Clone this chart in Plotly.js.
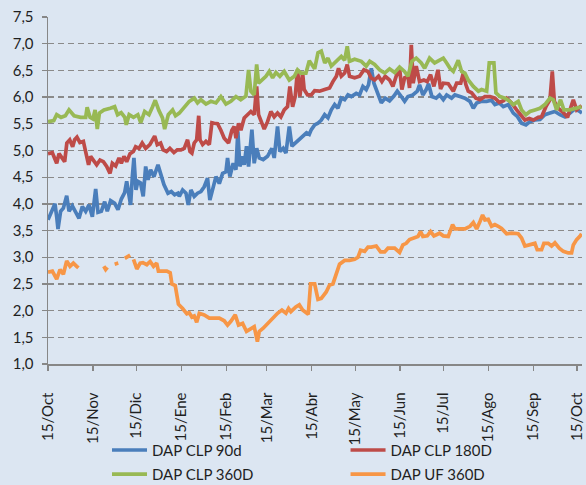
<!DOCTYPE html>
<html>
<head>
<meta charset="utf-8">
<script src="https://cdn.plot.ly/plotly-3.0.1.min.js"></script>
<style>
  html, body { margin: 0; padding: 0; background: #DCE6F2; }
  #chart { width: 586px; height: 485px; }
</style>
</head>
<body>
<div id="chart"></div>
<script>
// x = days since 15/Oct (start of period)
const tickDays = [0, 31, 61, 92, 123, 151, 182, 212, 243, 273, 304, 335, 365];
const tickLabels = ['15/Oct', '15/Nov', '15/Dic', '15/Ene', '15/Feb', '15/Mar', '15/Abr', '15/May', '15/Jun', '15/Jul', '15/Ago', '15/Sep', '15/Oct'];

const clp90Days = [0,3,4.8,6,6.9,8.7,10.6,12.9,14.5,16.8,19.1,21.4,23.7,26,28.3,30.6,32.9,34.5,36.8,39.1,40.9,43.2,46,48.3,50.6,52.9,54.3,55.9,57,58.2,59.3,60.7,62,63.9,65.7,67.4,69,70.8,73.1,75.9,77.7,80,82.8,85.1,87.4,89.7,90.6,92.9,95.2,96.8,98.6,100.9,103.2,105.5,107.8,110.1,111.7,113.6,115.9,118.2,120.5,122.8,123.9,125.5,127.8,129.7,131,132.4,134.3,135.4,137,138.4,140.7,142.3,144,145.8,148.5,151.5,154.5,156.1,158.4,160,162.3,164.2,166.5,168.3,170.6,172.9,175.7,178.4,180.3,181.7,184,186.3,188.6,190.9,193.2,195.5,197.8,200.1,202.4,204.7,207,209.3,212.7,215,217.3,219.6,221.2,223.1,224.9,227.7,230,232.7,235.7,238.7,241,243.8,246.1,248.4,251.8,254.8,256.4,258.7,261,262.6,264.9,267.9,270.2,272.8,275.1,278.5,280.8,284.3,287.7,291.2,293.5,295.8,299.2,302.7,306.1,308.4,311.4,314.2,317.6,321.1,323.8,326.8,329.8,332.6,336,339.5,342.9,346.4,349.8,353.3,356.7,360.2,363.6,367,368.5];
const clp90Vals = [3.70,3.89,4.00,3.76,3.53,3.86,3.92,4.15,3.86,3.96,3.86,3.73,3.95,3.86,3.98,3.76,4.28,3.84,3.86,4.04,3.86,4.06,4.01,3.89,4.09,4.21,4.42,4.14,3.98,4.51,4.86,4.26,4.42,4.39,4.14,4.70,4.45,4.64,4.51,4.73,4.54,4.36,4.20,4.23,4.17,4.20,4.14,4.26,4.20,3.98,4.26,4.14,4.20,4.23,4.32,4.48,4.07,4.26,4.51,4.38,4.57,4.60,4.86,4.51,4.76,4.64,5.36,4.70,4.89,4.73,5.08,4.70,5.39,4.76,5.04,4.86,4.83,4.89,5.04,4.86,5.45,4.98,5.04,4.95,5.45,5.08,5.14,5.20,5.26,5.33,5.30,5.39,5.48,5.51,5.57,5.67,5.61,5.76,5.86,5.79,5.98,5.95,6.04,6.01,6.07,6.04,6.20,6.14,6.23,6.54,6.26,6.07,5.89,5.98,5.93,6.02,6.11,6.01,5.92,6.01,6.04,6.11,6.23,6.04,6.14,6.25,6.01,5.98,6.04,5.95,6.04,5.98,6.04,6.01,5.98,5.92,5.79,5.89,5.92,5.92,5.94,5.86,5.89,5.82,5.86,5.70,5.64,5.51,5.48,5.54,5.57,5.58,5.67,5.70,5.73,5.67,5.63,5.70,5.78,5.73,5.70];

const clp180Days = [0,3,4,6,7.6,10,11.5,13,15,17,18.4,20,22,24.4,26,28,29.4,31.3,33.6,35.9,38.2,40.5,42.8,44.4,46.7,49,50.6,52.4,54.3,56.6,58.9,60.5,62.8,65,67.4,70.3,72,73.6,75.4,77.7,79.5,81.8,84.1,86.9,89.2,91.7,94,96.3,98,99.3,100.9,102.6,104,104.9,106.7,109,111.3,113.1,114.7,117,119.3,121.6,124.6,126.9,128.5,129.7,131.5,133.1,135.4,137.7,140,142.3,144,145.3,147.6,149.2,151.5,153.8,156.1,158.4,160.7,163,165.3,166.9,168.8,170.6,172.2,173.8,175.7,176.8,179.1,181.7,184,187.4,190.9,194.3,196.6,199,200.5,202.4,204.7,206.5,208.1,211.6,215,218,220.8,223,225.4,228.1,230.4,232.7,235.7,238,240.3,242.6,244.2,246.1,248.4,249.5,250.7,252,254.1,256.4,259.4,261.7,264,266.3,269.1,270.9,272.8,276.2,279.7,282,284.8,286.6,288.4,290,292.3,295.3,298.1,301.5,305,308.4,311.4,314.2,316.5,319.9,323.4,326.8,329.1,332.1,334.9,338.3,340.6,343.6,346.4,348,349.4,352.1,355.6,358.5,360.6,362.5,364.8,368.2];
const clp180Vals = [4.94,4.96,4.89,4.76,4.94,4.86,4.79,5.14,5.20,5.07,5.20,5.25,5.15,5.17,4.95,4.73,4.89,4.82,4.73,4.82,4.79,4.70,4.57,4.76,4.71,4.86,4.76,4.89,4.79,4.94,4.98,5.07,5.04,5.14,5.04,5.11,5.20,5.27,5.11,5.14,5.01,4.98,5.04,4.96,5.01,5.01,5.04,5.20,4.98,4.95,5.14,5.20,5.65,5.20,5.11,5.17,5.11,5.52,5.51,5.50,5.38,5.23,5.14,5.38,5.45,5.23,5.51,5.38,5.61,5.67,5.73,5.67,6.20,5.67,5.48,5.40,5.54,5.73,5.63,5.70,5.63,5.76,5.82,6.20,5.82,6.01,6.52,6.01,6.45,6.14,6.04,6.04,6.12,6.11,6.14,6.17,6.29,6.39,6.54,6.39,6.45,6.61,6.39,6.36,6.39,6.51,6.48,6.36,6.32,6.39,6.29,6.39,6.32,6.20,6.39,6.54,6.14,6.36,6.39,6.17,6.98,6.26,6.58,6.29,6.32,6.29,6.42,6.20,6.51,6.15,6.26,6.25,6.11,6.26,6.26,6.45,6.23,6.11,6.08,5.98,5.95,6.01,6.01,5.98,5.90,5.93,5.98,5.89,5.76,5.64,5.57,5.60,5.57,5.62,5.63,5.82,5.95,6.48,5.92,5.79,5.71,5.62,5.79,5.95,5.76,5.84];

const clp360Days = [0,4,6,9,12,14.5,18,22.5,26,27,29,31,32.5,34,35.5,38.6,43,46,48,50.5,53,54,56,59,62,64,66.7,69.7,72,74,76.5,79,80.5,83,86,88,90.6,94,97.5,101,103.2,105.5,109,112.4,115.9,119.3,122.8,126.2,129.7,133,136.6,138.4,140,142.3,144,145.3,148,150.4,152.7,155,157.3,160,163,166.5,170,172.2,174.5,178,180.3,184,186.3,188.6,191,193.2,195.5,199,202.4,204.7,206.5,208,211.6,216.2,219.6,222,225.4,228.8,232.3,235.7,239.2,242.6,246,248.4,251.1,254.1,257.6,259.9,263.3,266.8,270.2,272.8,275.1,277.4,279.7,283.1,285.4,287.7,290,293.5,297,299.2,302.7,304.5,307.7,309.1,311.9,315.3,318.8,321.1,324.5,326.8,329.8,332.6,336,339.5,342.9,346.4,348.7,351,353.7,356,360.2,364.8,368.2];
const clp360Vals = [5.54,5.56,5.67,5.62,5.65,5.76,5.65,5.62,5.62,5.81,5.62,5.59,5.76,5.40,5.70,5.76,5.79,5.82,5.67,5.71,5.62,5.48,5.67,5.62,5.67,5.52,5.73,5.67,5.81,5.94,5.75,5.61,5.40,5.67,5.76,5.65,5.70,5.82,5.92,5.98,5.89,5.95,5.87,5.92,5.89,6.01,5.87,5.92,6.01,5.95,6.02,6.51,6.11,6.04,6.61,6.26,6.32,6.39,6.48,6.36,6.46,6.39,6.48,6.32,6.39,6.51,6.45,6.45,6.68,6.53,6.83,6.86,6.64,6.73,6.58,6.67,6.76,6.69,6.95,6.67,6.71,6.67,6.58,6.67,6.61,6.51,6.45,6.53,6.46,6.56,6.48,6.39,6.67,6.73,6.64,6.54,6.73,6.64,6.69,6.73,6.64,6.54,6.48,6.69,6.48,6.45,6.32,6.20,6.11,6.14,6.11,6.64,6.64,6.08,6.01,5.98,5.92,5.86,5.92,5.76,5.67,5.73,5.76,5.79,5.86,5.98,5.95,5.76,5.95,5.76,5.76,5.79,5.82];

const uf360Days = [0,3,6,8.3,10.6,12.9,15.2,17.5,19.8,21,21.5,38.5,39.8,41,41.5,46,48.5,49,53,56.7,57.5,59,61.3,63.6,65.5,68.2,70.5,72.8,75,76.2,82,84.3,85.5,87.8,90,92.9,95.8,97.5,99.3,100.9,102.6,104.4,107.8,111.3,114.7,118.2,121.6,123.9,126.2,129.2,131.5,134.3,137,140,142.3,144.5,145.8,148.5,151.5,155,158.4,161.4,164.2,166,167.6,171,173.4,175.7,178.4,179.6,181.2,184,186.3,188.6,192,194.3,196.6,199,201.2,204.7,208.1,211.6,213.9,215.7,218.5,220.8,223.1,226.5,229.5,232.3,234.6,239.2,242.6,244.9,247.2,249.5,253,255.3,257.1,258.7,261.7,264,266.3,270.2,272.8,276.2,279.2,280.8,287.7,291.2,293.5,295.8,298.1,299.9,301.5,303.8,306.1,308.4,310.7,313,316.5,319.9,324.5,326.8,329.1,332.6,336,337.6,340.6,342.2,345.2,347.5,349.8,352.8,355.6,359,361.3,362.5,364.8,367,368.2];
const uf360Vals = [2.72,2.74,2.59,2.77,2.68,2.93,2.83,2.89,2.83,2.80,null,2.83,2.77,2.81,null,2.87,2.89,null,2.98,3.04,null,2.96,2.78,2.89,2.90,2.86,2.92,2.83,2.89,2.74,2.74,2.71,2.50,2.47,2.12,2.04,1.94,1.96,1.88,1.90,1.78,1.95,1.92,1.86,1.86,1.86,1.81,1.73,1.80,1.92,1.73,1.76,1.61,1.67,1.70,1.42,1.61,1.67,1.76,1.87,1.95,2.01,1.95,2.04,1.98,2.07,2.11,2.01,1.95,1.93,2.50,2.50,2.21,2.23,2.35,2.48,2.50,2.68,2.87,2.94,2.94,2.96,3.00,3.13,3.11,3.19,3.19,3.21,3.10,3.10,3.17,3.17,3.09,3.23,3.26,3.33,3.36,3.39,3.48,3.39,3.40,3.48,3.40,3.45,3.40,3.39,3.61,3.53,3.53,3.58,3.65,3.53,3.67,3.79,3.70,3.71,3.58,3.61,3.58,3.54,3.44,3.45,3.44,3.36,3.21,3.23,3.26,3.14,3.14,3.26,3.26,3.21,3.27,3.17,3.11,3.08,3.08,3.23,3.33,3.39,3.44];

const seriesNames = ['DAP CLP 90d', 'DAP CLP 180D', 'DAP CLP 360D', 'DAP UF 360D'];
const seriesColors = ['#4A7EBB', '#BE4B48', '#98B954', '#F79646'];
const seriesX = [clp90Days, clp180Days, clp360Days, uf360Days];
const seriesY = [clp90Vals, clp180Vals, clp360Vals, uf360Vals];

const FONT = 'Lato, "Open Sans", sans-serif';
const legendIds = ['legend', 'legend2', 'legend3', 'legend4'];
const traces = seriesNames.map((n, i) => ({
  type: 'scatter', mode: 'lines', name: n,
  x: seriesX[i], y: seriesY[i],
  connectgaps: false,
  legend: legendIds[i],
  line: { color: seriesColors[i], width: 3.7 },
  hoverinfo: 'skip'
}));

// legend placement (paper coords): 2 columns x 2 rows below the axis
const legCol = [0.1105, 0.5572];
const legRow = [-0.2486, -0.318];
function legendBox(col, row) {
  return {
    x: legCol[col], xanchor: 'left', y: legRow[row], yanchor: 'middle',
    xref: 'paper', yref: 'paper',
    bgcolor: 'rgba(0,0,0,0)', borderwidth: 0, itemwidth: 35,
    font: { family: FONT, size: 15, color: '#1f1f1f' }
  };
}

const layout = {
  width: 586, height: 485,
  paper_bgcolor: '#DCE6F2', plot_bgcolor: '#DCE6F2',
  margin: { l: 48, r: 4, t: 17, b: 121, autoexpand: false },
  font: { family: FONT, size: 15, color: '#1f1f1f' },
  separators: ',.',
  showlegend: true,
  xaxis: {
    type: 'linear', range: [0, 368.5],
    tickmode: 'array', tickvals: tickDays, ticktext: tickLabels,
    tickangle: -90, ticks: 'outside', ticklen: 5, tickwidth: 1.3, tickcolor: '#878787',
    showline: true, linecolor: '#878787', linewidth: 1.5,
    showgrid: false, zeroline: false,
    ticklabelstandoff: 16,
    tickfont: { family: FONT, size: 15, color: '#1f1f1f' }
  },
  yaxis: {
    range: [1, 7.5], dtick: 0.5, tick0: 1, tickformat: '.1f',
    ticks: 'outside', ticklen: 5, tickwidth: 1.3, tickcolor: '#878787',
    showline: true, linecolor: '#878787', linewidth: 1.5,
    showgrid: true, gridcolor: '#8a8a8a', gridwidth: 1.3, griddash: '6px,4px',
    zeroline: false,
    ticklabelstandoff: 5,
    tickfont: { family: FONT, size: 15, color: '#1f1f1f' }
  },
  legend: legendBox(0, 0),
  legend2: legendBox(1, 0),
  legend3: legendBox(0, 1),
  legend4: legendBox(1, 1)
};

Plotly.newPlot('chart', traces, layout, { displayModeBar: false, staticPlot: true });
</script>
</body>
</html>
